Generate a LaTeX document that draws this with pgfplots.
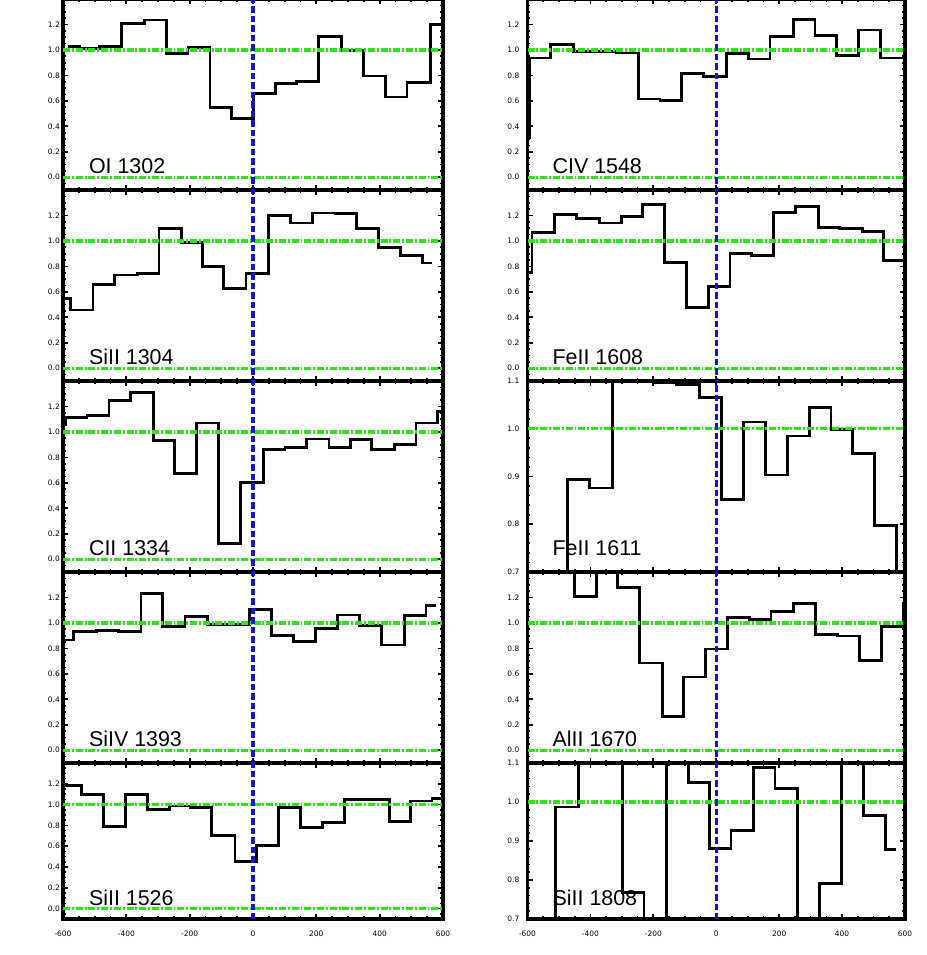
\documentclass[border=0pt]{standalone}
\usepackage{fontspec}
\setmainfont{Liberation Sans}
\newfontfamily\dejavu{DejaVu Sans}
\usepackage{pgfplots}
\pgfplotsset{compat=1.18}
\definecolor{lgreen}{RGB}{50,225,30}
\definecolor{dblue}{RGB}{20,20,215}
\tikzset{lab/.style={anchor=base west, inner sep=0pt, font=\fontsize{21.5}{24}\selectfont}}
\pgfplotsset{
  panel/.style={
    scale only axis,
    anchor=south west,
    xmin=-600, xmax=600,
    xtick={-600,-400,-200,0,200,400,600},
    minor xtick={-550,-500,-450,-350,-300,-250,-150,-100,-50,50,100,150,250,300,350,450,500,550},
    xticklabels={},
    tick align=inside,
    tick pos=both,
    major tick length=5bp,
    minor tick length=2.8bp,
    tick style={line width=1.7bp, black},
    axis line style={line width=3.1bp},
    tick label style={font=\dejavu\fontsize{7.5}{8}\selectfont},
    yticklabel style={anchor=east, inner sep=0pt, xshift=-3bp},
    xticklabel style={anchor=north, inner sep=0pt, yshift=-12bp},
    clip=true,
  },
  wide/.style={ymin=-0.1, ymax=1.4,
    ytick={0,0.2,0.4,0.6,0.8,1.0,1.2},
    yticklabels={0.0,0.2,0.4,0.6,0.8,1.0,1.2},
    minor ytick={-0.05,0.05,0.1,0.15,0.25,0.3,0.35,0.45,0.5,0.55,0.65,0.7,0.75,0.85,0.9,0.95,1.05,1.1,1.15,1.25,1.3,1.35}},
  narrow/.style={ymin=0.7, ymax=1.1,
    ytick={0.7,0.8,0.9,1.0,1.1},
    yticklabels={0.7,0.8,0.9,1.0,1.1},
    minor ytick={0.72,0.74,0.76,0.78,0.82,0.84,0.86,0.88,0.92,0.94,0.96,0.98,1.02,1.04,1.06,1.08}},
  bottomlab/.style={xticklabels={-600,-400,-200,0,200,400,600}},
  data/.style={const plot mark left, black, line width=2.8bp, mark=none},
  gline/.style={color=lgreen, line width=3.3bp, dash pattern=on 7bp off 1.9bp on 1.9bp off 1.9bp},
  bline/.style={color=dblue, line width=3.1bp, dash pattern=on 6.7bp off 2.8bp},
}
\newcommand{\widerefs}{%
  \addplot[gline] coordinates {(-600,1) (600,1)};
  \addplot[gline] coordinates {(-600,0) (600,0)};
  \addplot[bline] coordinates {(0,-0.2) (0,1.5)};
}
\newcommand{\narrowrefs}{%
  \addplot[gline] coordinates {(-600,1) (600,1)};
  \addplot[bline] coordinates {(0,0.6) (0,1.2)};
}
\begin{document}
\begin{tikzpicture}
% ---------------- left column ----------------
\begin{axis}[panel, wide, at={(63bp,765bp)}, width=380bp, height=191bp]
\addplot[data] coordinates {(-584,1.03)(-547,1.01)(-484,1.03)(-415,1.21)(-342,1.235)(-273,0.97)(-205,1.02)(-136,0.545)(-67,0.46)(1,0.655)(70,0.735)(138,0.75)(207,1.105)(280,0.995)(349,0.795)(418,0.63)(486,0.745)(560,1.20)(597,1.20)};
\widerefs
\node[lab] at (rel axis cs:0.068,0.087) {OI 1302};
\end{axis}
\begin{axis}[panel, wide, at={(63bp,574bp)}, width=380bp, height=191bp]
\addplot[data] coordinates {(-600,0.545)(-577,0.458)(-505,0.657)(-437,0.733)(-366,0.746)(-297,1.10)(-226,0.99)(-160,0.80)(-92,0.628)(-22,0.746)(48.5,1.20)(119,1.14)(188,1.22)(259,1.218)(328,1.10)(396,0.948)(465,0.885)(536,0.827)(565,0.827)};
\widerefs
\node[lab] at (rel axis cs:0.068,0.087) {SiII 1304};
\end{axis}
\begin{axis}[panel, wide, at={(63bp,383bp)}, width=380bp, height=191bp]
\addplot[data] coordinates {(-598,1.06)(-593,1.115)(-524,1.13)(-455,1.245)(-386,1.31)(-315,0.93)(-247,0.675)(-178,1.07)(-110,0.125)(-39,0.60)(33,0.865)(101,0.875)(170,0.945)(240,0.875)(307,0.94)(375,0.86)(446,0.90)(515,1.07)(583,1.16)(597,1.16)};
\widerefs
\node[lab] at (rel axis cs:0.068,0.087) {CII 1334};
\end{axis}
\begin{axis}[panel, wide, at={(63bp,192bp)}, width=380bp, height=191bp]
\addplot[data] coordinates {(-600,0.866)(-566,0.932)(-494,0.94)(-424,0.932)(-354,1.234)(-286,0.971)(-215,1.05)(-144,0.99)(-73,0.99)(-12,1.105)(59,0.90)(128,0.856)(198,0.958)(267,1.063)(336,0.979)(405,0.827)(478,1.058)(546,1.136)(578,1.136)};
\widerefs
\node[lab] at (rel axis cs:0.068,0.087) {SiIV 1393};
\end{axis}
\begin{axis}[panel, wide, bottomlab, at={(63bp,36bp)}, width=380bp, height=156bp]
\addplot[data] coordinates {(-600,1.185)(-542,1.10)(-471,0.788)(-402,1.10)(-333,0.955)(-263,0.987)(-199,0.974)(-131,0.704)(-57,0.45)(12,0.608)(80,0.971)(151,0.778)(220,0.826)(288,1.051)(360,1.051)(430,0.839)(497,1.035)(565,1.061)(600,1.061)};
\widerefs
\node[lab] at (rel axis cs:0.068,0.085) {SiII 1526};
\end{axis}
% ---------------- right column ----------------
\begin{axis}[panel, wide, at={(527.5bp,765bp)}, width=377.5bp, height=191bp, yticklabel style={xshift=-5bp}]
\addplot[data] coordinates {(-597,0.31)(-593,0.937)(-526,1.042)(-455,0.99)(-386,0.99)(-317,0.976)(-248,0.615)(-179,0.602)(-110,0.812)(-41,0.793)(33,0.969)(102,0.929)(171,1.105)(245,1.238)(314,1.115)(383,0.955)(452,1.157)(521,0.937)(595,0.937)};
\widerefs
\node[lab] at (rel axis cs:0.066,0.087) {CIV 1548};
\end{axis}
\begin{axis}[panel, wide, at={(527.5bp,574bp)}, width=377.5bp, height=191bp, yticklabel style={xshift=-5bp}]
\addplot[data] coordinates {(-597,0.75)(-586,1.068)(-513,1.207)(-444,1.178)(-372,1.141)(-301,1.191)(-235,1.285)(-165,0.832)(-94,0.479)(-25,0.644)(43.5,0.903)(112,0.885)(183,1.225)(253,1.272)(324,1.107)(393,1.099)(465,1.073)(531,0.846)(597,0.846)};
\widerefs
\node[lab] at (rel axis cs:0.066,0.087) {FeII 1608};
\end{axis}
\begin{axis}[panel, narrow, at={(527.5bp,383bp)}, width=377.5bp, height=191bp, yticklabel style={xshift=-5bp}]
\addplot[data] coordinates {(-597,0.6)(-473,0.894)(-402,0.876)(-331,1.2)(-264,1.2)(-200,1.097)(-126,1.092)(-54,1.065)(17,0.852)(86,1.014)(157,0.903)(226,0.985)(296,1.044)(365,0.999)(432,0.948)(502,0.798)(573.5,0.6)(597,0.6)};
\narrowrefs
\node[lab] at (rel axis cs:0.066,0.087) {FeII 1611};
\end{axis}
\begin{axis}[panel, wide, at={(527.5bp,192bp)}, width=377.5bp, height=191bp, yticklabel style={xshift=-5bp}]
\addplot[data] coordinates {(-597,1.6)(-449.5,1.21)(-381,1.6)(-314,1.278)(-243,0.685)(-172,0.265)(-105,0.575)(-34,0.795)(36,1.042)(105,1.026)(174,1.089)(245,1.15)(316,0.906)(386,0.898)(455,0.703)(526,0.974)(595,1.15)(598,1.15)};
\widerefs
\node[lab] at (rel axis cs:0.066,0.087) {AlII 1670};
\end{axis}
\begin{axis}[panel, narrow, bottomlab, at={(527.5bp,36bp)}, width=377.5bp, height=156bp, yticklabel style={xshift=-5bp}]
\addplot[data] coordinates {(-597,0.6)(-510,0.987)(-437,1.2)(-299,0.768)(-230,0.6)(-158,1.2)(-89,1.049)(-22,0.88)(47,0.926)(118,1.089)(187,1.034)(259,0.6)(328,0.792)(399,1.2)(468,0.965)(539,0.879)(570,0.879)};
\narrowrefs
\node[lab] at (rel axis cs:0.066,0.085) {SiII 1808};
\end{axis}
\pgfresetboundingbox
\path[use as bounding box] (0,0) rectangle (927bp,955bp);
\end{tikzpicture}
\end{document}
